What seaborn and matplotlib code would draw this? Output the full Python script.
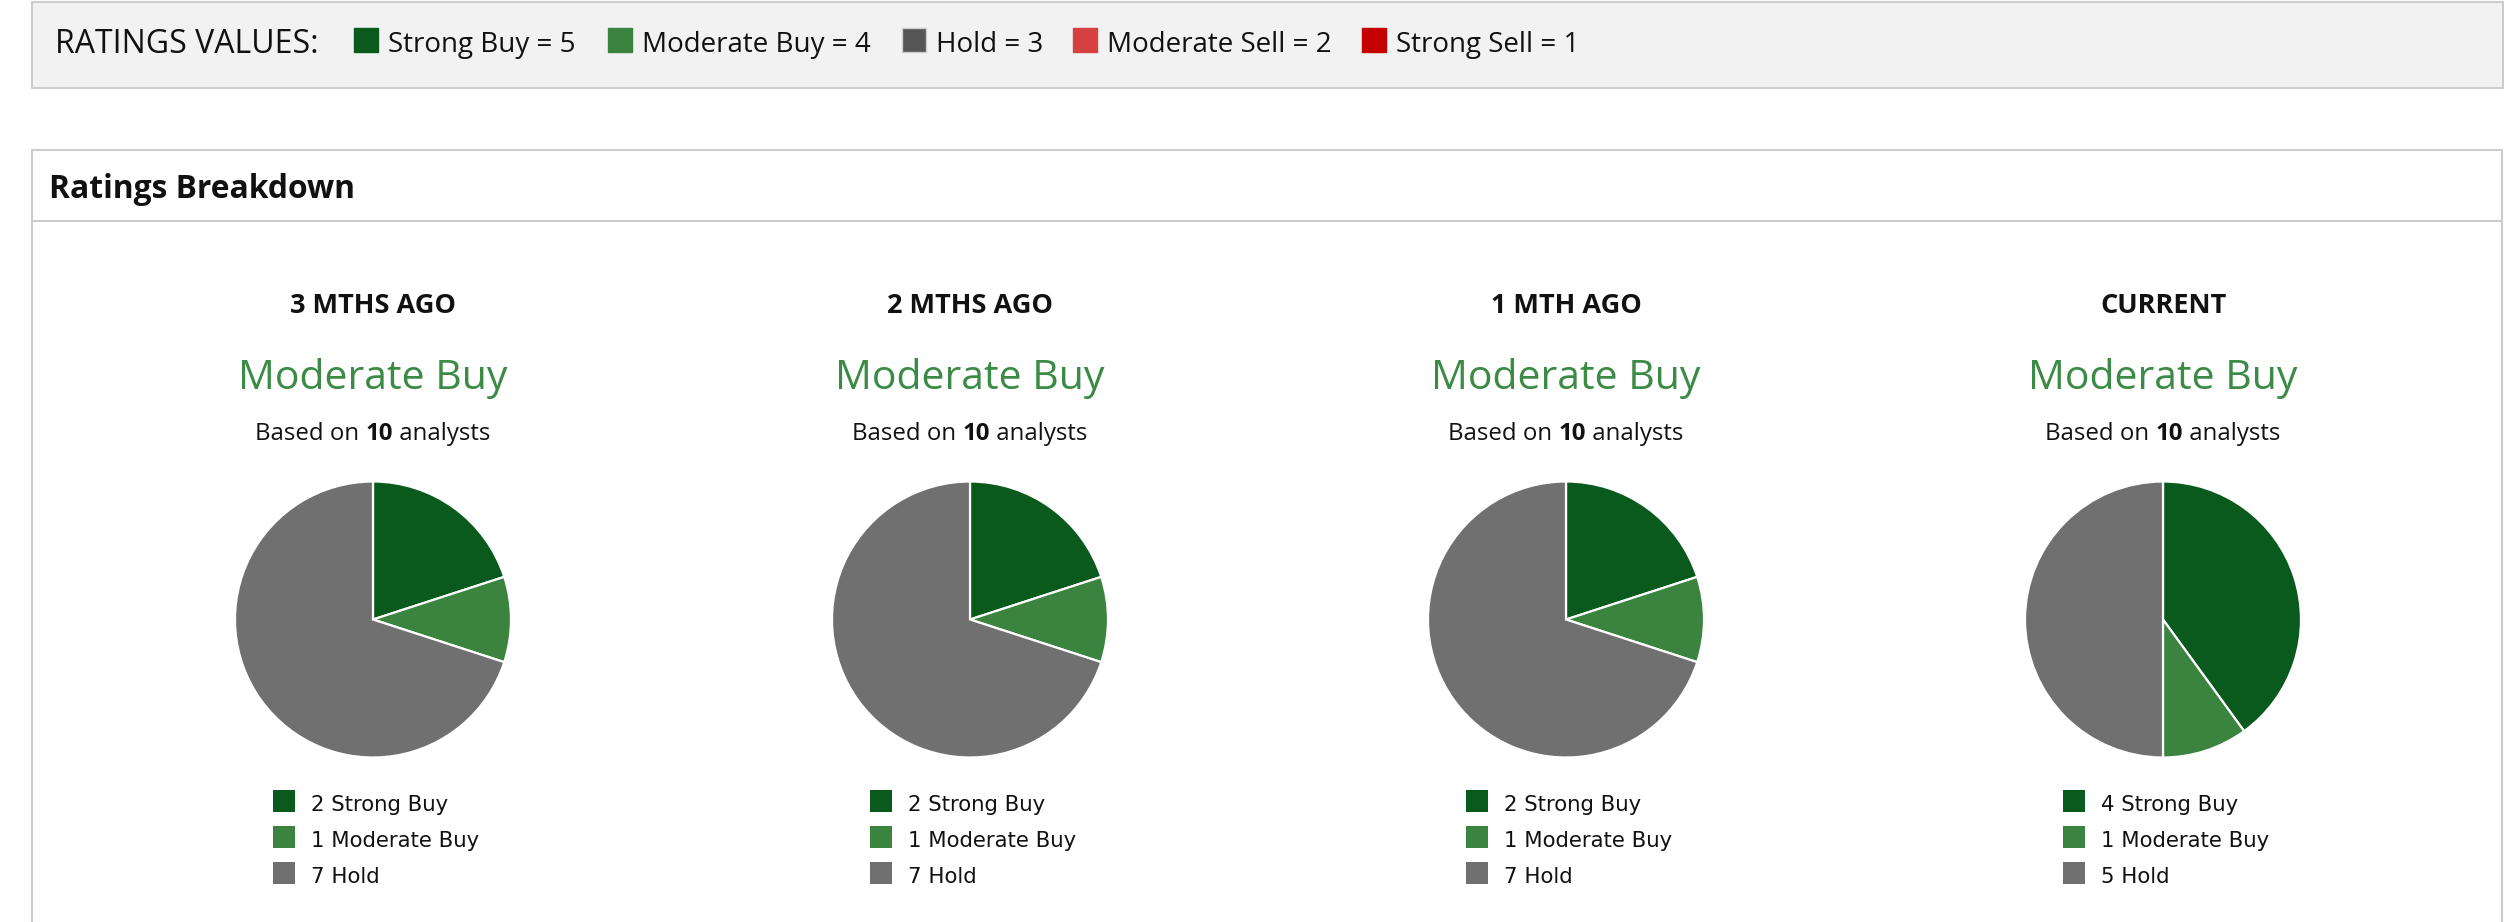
import matplotlib
matplotlib.use('Agg')
import matplotlib.pyplot as plt
from matplotlib.patches import Rectangle
import seaborn as sns

# 데이터
periods = ['3 MTHS AGO', '2 MTHS AGO', '1 MTH AGO', 'CURRENT']
consensus = ['Moderate Buy', 'Moderate Buy', 'Moderate Buy', 'Moderate Buy']
analysts = [10, 10, 10, 10]
strong_buy = [2, 2, 2, 4]
moderate_buy = [1, 1, 1, 1]
hold = [7, 7, 7, 5]
pie_labels = ['Strong Buy', 'Moderate Buy', 'Hold']

rating_names = ['Strong Buy', 'Moderate Buy', 'Hold', 'Moderate Sell', 'Strong Sell']
rating_values = [5, 4, 3, 2, 1]
rating_colors = ['#0a5a1d', '#3a8440', '#555555', '#d54040', '#c40000']
pie_colors = ['#0a5a1d', '#3a8440', '#707070']

sns.set_theme(style='white')
plt.rcParams['font.family'] = ['Open Sans', 'DejaVu Sans']

W, H = 2516, 922
fig = plt.figure(figsize=(W / 100, H / 100), dpi=100)
bg = fig.add_axes([0, 0, 1, 1])
bg.set_xlim(0, W)
bg.set_ylim(H, 0)
bg.axis('off')

# 상단 박스 (ratings values)
bg.add_patch(Rectangle((32, 2), 2471, 86, facecolor='#f2f2f2', edgecolor='#cccccc', lw=1.5))
bg.text(55, 53, 'RATINGS VALUES:', fontsize=23, color='#111111', va='baseline')
sq_x = [354, 608, 902, 1073, 1362]
for x, name, val, c in zip(sq_x, rating_names, rating_values, rating_colors):
    ec = '#cccccc' if name == 'Hold' else c
    bg.add_patch(Rectangle((x, 28), 24, 24, facecolor=c, edgecolor=ec, lw=1))
    bg.text(x + 34, 52, f'{name} = {val}', fontsize=20, color='#111111', va='baseline')

# ratings breakdown 박스
bg.add_patch(Rectangle((32, 150), 2470, 790, facecolor='white', edgecolor='#cccccc', lw=1.5))
bg.plot([32, 2502], [221, 221], color='#cccccc', lw=1.5)
bg.text(49, 198, 'Ratings Breakdown', fontsize=22.9, fontweight='bold', color='#111111', va='baseline')

renderer = fig.canvas.get_renderer()
centers = [373, 970, 1566, 2163]
r = 138
cy = 619.5
for i, cx in enumerate(centers):
    bg.text(cx, 313, periods[i], fontsize=19.5, fontweight='bold', color='#111111',
            ha='center', va='baseline')
    bg.text(cx, 389, consensus[i], fontsize=29.5, color='#3b8a45', ha='center', va='baseline')

    # "Based on 10 analysts" (숫자만 bold)
    parts = [('Based on ', 'normal'), (str(analysts[i]), 'bold'), (' analysts', 'normal')]
    objs = [bg.text(0, 440, p, fontsize=17.3, fontweight=w, color='#111111', va='baseline')
            for p, w in parts]
    widths = [o.get_window_extent(renderer).width for o in objs]
    x0 = cx - sum(widths) / 2
    for o, w in zip(objs, widths):
        o.set_x(x0)
        x0 += w

    # 파이 차트
    ax = fig.add_axes([(cx - r) / W, (H - cy - r) / H, 2 * r / W, 2 * r / H])
    vals = [strong_buy[i], moderate_buy[i], hold[i]]
    ax.pie(vals, colors=pie_colors, startangle=90, counterclock=False, radius=1,
           wedgeprops=dict(edgecolor='white', linewidth=1.6))
    ax.set_xlim(-1.0, 1.0)
    ax.set_ylim(-1.0, 1.0)
    ax.axis('off')

    # 범례
    for j, (v, lab) in enumerate(zip(vals, pie_labels)):
        yc = 801 + j * 35.8
        bg.add_patch(Rectangle((cx - 100, yc - 11), 22, 22, facecolor=pie_colors[j], edgecolor='none'))
        bg.text(cx - 62, yc + 10, f'{v} {lab}', fontsize=15.3, family=['DejaVu Sans'],
                color='#111111', va='baseline')

fig.savefig('out.png', dpi=100)
plt.close()
